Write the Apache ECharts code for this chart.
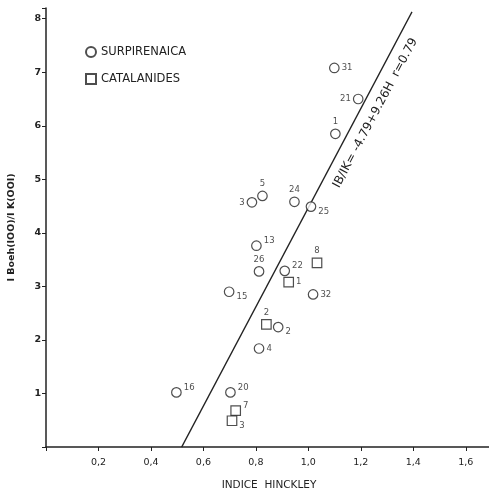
<!DOCTYPE html>
<html>
<head>
<meta charset="utf-8">
<script src="https://cdn.jsdelivr.net/npm/echarts@6/dist/echarts.min.js"></script>
<style>
html,body{margin:0;padding:0;background:#fff;}
#c{width:489px;height:491px;}
</style>
</head>
<body>
<div id="c"></div>
<script>
// ---- data ----
var surpNames = ['31','21','1','25','24','5','3','13','26','22','15','32','2','4','16','20'];
var surpX = [1.099,1.19,1.103,1.01,0.947,0.825,0.785,0.802,0.812,0.91,0.698,1.018,0.885,0.812,0.497,0.703];
var surpY = [7.08,6.50,5.85,4.49,4.58,4.69,4.57,3.76,3.28,3.29,2.90,2.85,2.24,1.84,1.02,1.02];
var surpLabelPos = ['r','l','t','br','t','t','l','tr','t','tr','br','r','br','r','tr','tr'];

var cataNames = ['8','1','2','7','3'];
var cataX = [1.033,0.925,0.84,0.723,0.709];
var cataY = [3.44,3.08,2.29,0.68,0.49];
var cataLabelPos = ['t','r','t','tr','br'];

var regIntercept = -4.79;
var regSlope = 9.26;
var regRange = [0.517, 1.395];

var xTickLabels = ['0,2','0,4','0,6','0,8','1,0','1,2','1,4','1,6'];
var yTickLabels = ['1','2','3','4','5','6','7','8'];

var seriesNames = ['SURPIRENAICA','CATALANIDES'];

// ---- build ----
var INK = '#222';
var FONT = 'DejaVu Sans';

function labelFor(p) {
  var l = {show: true, formatter: '{b}', fontSize: 8.5, color: INK, fontFamily: FONT, distance: 2};
  if (p === 'r') { l.position = 'right'; }
  else if (p === 'l') { l.position = 'left'; }
  else if (p === 't') { l.position = 'top'; }
  else if (p === 'tr') { l.position = 'right'; l.offset = [0, -5]; }
  else if (p === 'br') { l.position = 'right'; l.offset = [0, 5]; }
  return l;
}
function mk(names, xs, ys, pos) {
  return names.map(function (n, i) {
    return {name: n, value: [xs[i], ys[i]], label: labelFor(pos[i])};
  });
}

var chart = echarts.init(document.getElementById('c'));
var option = {
  animation: false,
  backgroundColor: '#fff',
  grid: {left: 46, top: 8, width: 446, height: 439, containLabel: false, outerBoundsMode: 'none'},
  legend: {
    orient: 'vertical', left: 80, top: 41, itemGap: 15, itemWidth: 10, itemHeight: 10,
    textStyle: {fontSize: 11.5, color: INK, fontFamily: FONT},
    data: seriesNames
  },
  xAxis: {
    type: 'value', min: 0, max: 1.7, interval: 0.2,
    name: 'INDICE  HINCKLEY', nameLocation: 'middle', nameGap: 33,
    nameTextStyle: {fontSize: 10.5, color: INK, fontFamily: FONT},
    axisLine: {lineStyle: {color: INK, width: 1.5}},
    axisTick: {show: true, length: 4, lineStyle: {color: INK}},
    splitLine: {show: false},
    axisLabel: {
      color: INK, fontSize: 9.5, fontFamily: FONT, margin: 11,
      formatter: function (v) {
        var i = Math.round(v / 0.2) - 1;
        return (i >= 0 && i < xTickLabels.length && Math.abs(v - (i + 1) * 0.2) < 1e-6) ? xTickLabels[i] : '';
      }
    }
  },
  yAxis: {
    type: 'value', min: 0, max: 8.2, interval: 1,
    name: 'I Boeh(IOO)/I K(OOI)', nameLocation: 'middle', nameGap: 29, nameRotate: 90,
    nameTextStyle: {fontSize: 9.5, color: INK, fontFamily: FONT, fontWeight: 'bold'},
    axisLine: {lineStyle: {color: INK, width: 1.5}},
    axisTick: {show: true, length: 4, lineStyle: {color: INK}},
    splitLine: {show: false},
    axisLabel: {
      color: INK, fontSize: 9.5, fontFamily: FONT, margin: 5, fontWeight: 'bold',
      formatter: function (v) {
        var i = Math.round(v) - 1;
        return (i >= 0 && i < yTickLabels.length && Math.abs(v - (i + 1)) < 1e-6) ? yTickLabels[i] : '';
      }
    }
  },
  series: [
    {
      name: seriesNames[0], type: 'scatter', symbol: 'circle', symbolSize: 9.5,
      itemStyle: {color: '#fff', borderColor: INK, borderWidth: 1.2},
      data: mk(surpNames, surpX, surpY, surpLabelPos), z: 3
    },
    {
      name: seriesNames[1], type: 'scatter', symbol: 'rect', symbolSize: 9.5,
      itemStyle: {color: '#fff', borderColor: INK, borderWidth: 1.2},
      data: mk(cataNames, cataX, cataY, cataLabelPos), z: 3
    },
    {
      name: 'reg', type: 'line', symbol: 'none', silent: true,
      lineStyle: {color: INK, width: 1.3},
      data: regRange.map(function (h) { return [h, regIntercept + regSlope * h]; }), z: 2
    }
  ]
};
chart.setOption(option);

// regression equation label, rotated along the line
var p0 = chart.convertToPixel({gridIndex: 0}, [regRange[0], regIntercept + regSlope * regRange[0]]);
var p1 = chart.convertToPixel({gridIndex: 0}, [regRange[1], regIntercept + regSlope * regRange[1]]);
var ang = Math.atan2(p0[1] - p1[1], p1[0] - p0[0]);
var hMid = 1.205;
var pm = chart.convertToPixel({gridIndex: 0}, [hMid, regIntercept + regSlope * hMid]);
var off = 15;
var cx = pm[0] + off * Math.sin(ang);
var cy = pm[1] + off * Math.cos(ang);
chart.setOption({
  graphic: [{
    type: 'text', x: cx, y: cy, rotation: ang,
    style: {
      text: 'IB/IK= -4.79+9.26H  r=0.79', fill: INK, font: '12px DejaVu Sans',
      align: 'center', verticalAlign: 'middle'
    }
  }]
});
</script>
</body>
</html>
